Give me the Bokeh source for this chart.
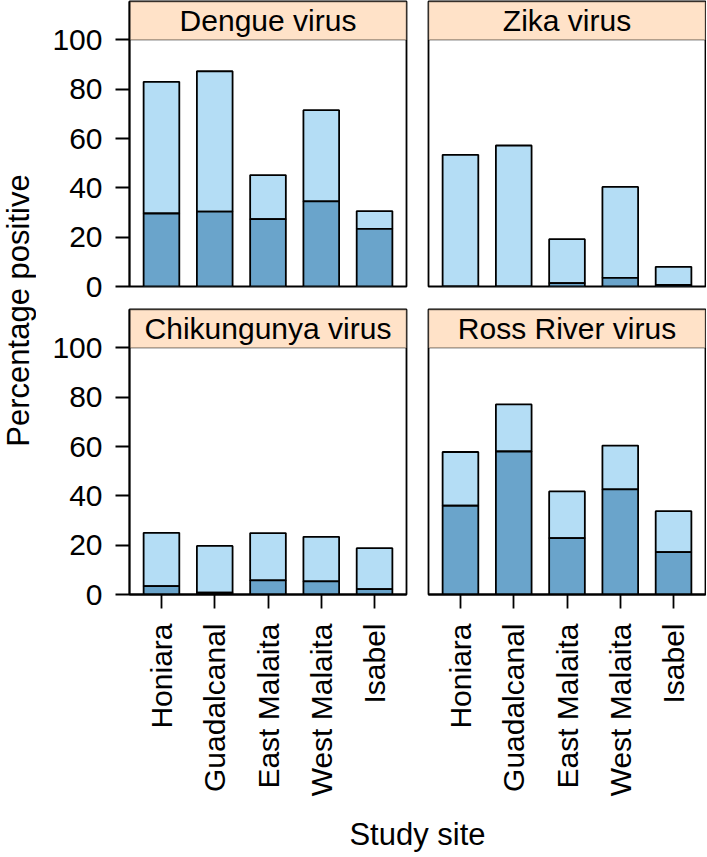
import math
from bokeh.plotting import figure
from bokeh.models import Range1d, FixedTicker, BoxAnnotation, Label
from bokeh.layouts import row, column
from bokeh.embed import file_html
from bokeh.resources import INLINE

# ---------------- data ----------------
sites = ["Honiara", "Guadalcanal", "East Malaita", "West Malaita", "Isabel"]
viruses = ["Dengue virus", "Zika virus", "Chikungunya virus", "Ross River virus"]

dengue_total = [83.0, 87.3, 45.2, 71.5, 30.6]
dengue_dark = [29.6, 30.4, 27.3, 34.5, 23.4]
zika_total = [53.4, 57.2, 19.2, 40.4, 8.0]
zika_dark = [0.0, 0.0, 1.4, 3.5, 0.6]
chik_total = [25.0, 19.7, 24.9, 23.4, 18.8]
chik_dark = [3.4, 0.8, 5.7, 5.3, 2.2]
ross_total = [57.8, 77.1, 41.8, 60.4, 33.8]
ross_dark = [36.0, 58.0, 22.9, 42.6, 17.2]

y_ticks = [0, 20, 40, 60, 80, 100]
y_label = "Percentage positive"
x_label = "Study site"

# ---------------- style ----------------
FONT = "Liberation Sans"
LIGHT = "#b4ddf5"
DARK = "#6aa4cb"
STRIP = "#ffe2c8"
LW = 1.8
FRAME_W, FRAME_H = 277, 285
Y_MAX = 115.6          # strip occupies 100..Y_MAX
YT_W = 36              # width of the y-title strip
LEFT_B = 93
GAP = 22
TOP_H = 1 + FRAME_H + 22
BOT_B = 205
BOT_H = 1 + FRAME_H + BOT_B
XT_H = 56

xpos = list(range(1, len(sites) + 1))
X_PAD = 0.6


def panel(name, total, dark, left_col, top_row):
    p = figure(
        x_range=Range1d(xpos[0] - X_PAD, xpos[-1] + X_PAD),
        y_range=Range1d(0, Y_MAX),
        frame_width=FRAME_W, frame_height=FRAME_H,
        output_backend="svg", toolbar_location=None,
        x_axis_location=None if top_row else "below",
        y_axis_location="left" if left_col else None,
        min_border_left=LEFT_B if left_col else 1,
        min_border_right=GAP - 1 if left_col else 1,
        min_border_top=1,
        min_border_bottom=22 if top_row else BOT_B,
    )
    p.xgrid.grid_line_color = None
    p.ygrid.grid_line_color = None
    p.outline_line_color = "black"
    p.outline_line_width = LW
    p.background_fill_color = "white"
    p.border_fill_color = "white"

    p.vbar(x=xpos, bottom=dark, top=total, width=0.67,
           fill_color=LIGHT, line_color="black", line_width=LW)
    p.vbar(x=xpos, bottom=0, top=dark, width=0.67,
           fill_color=DARK, line_color="black", line_width=LW)

    p.add_layout(BoxAnnotation(bottom=100, fill_color=STRIP, fill_alpha=1.0,
                               line_color="black", line_width=LW, level="underlay"))
    p.add_layout(Label(x=(xpos[0] + xpos[-1]) / 2, y=(100 + Y_MAX) / 2, text=name,
                       text_align="center", text_baseline="middle",
                       text_font=FONT, text_font_size="30px", text_color="black"))

    for ax in p.axis:
        ax.major_tick_out = 14
        ax.major_tick_in = 0
        ax.minor_tick_line_color = None
        ax.axis_line_color = "black"
        ax.axis_line_width = LW
        ax.major_tick_line_color = "black"
        ax.major_tick_line_width = LW
        ax.major_label_text_font = FONT
        ax.major_label_text_font_size = "30px"
        ax.major_label_text_color = "black"
    if left_col:
        p.yaxis.ticker = FixedTicker(ticks=y_ticks)
        p.yaxis.major_label_standoff = 13
    if not top_row:
        p.xaxis.ticker = FixedTicker(ticks=xpos)
        p.xaxis.major_label_overrides = {x: s for x, s in zip(xpos, sites)}
        p.xaxis.major_label_orientation = math.pi / 2
        p.xaxis.major_label_standoff = 15
    return p


p1 = panel(viruses[0], dengue_total, dengue_dark, True, True)
p2 = panel(viruses[1], zika_total, zika_dark, False, True)
p3 = panel(viruses[2], chik_total, chik_dark, True, False)
p4 = panel(viruses[3], ross_total, ross_dark, False, False)

# y title strip
yh = TOP_H + BOT_H
yfig = figure(width=YT_W, height=yh, x_range=Range1d(0, YT_W), y_range=Range1d(0, yh),
              min_border=0, x_axis_location=None, y_axis_location=None,
              output_backend="svg", toolbar_location=None)
yfig.outline_line_color = None
yfig.xgrid.grid_line_color = None
yfig.ygrid.grid_line_color = None
yfig.add_layout(Label(x=18, y=yh - 310, text=y_label, angle=math.pi / 2,
                      text_align="center", text_baseline="middle",
                      text_font=FONT, text_font_size="31px", text_color="black"))

# x title strip
xw = LEFT_B + FRAME_W + GAP + FRAME_W + 1
xfig = figure(width=xw, height=XT_H, x_range=Range1d(0, xw), y_range=Range1d(0, XT_H),
              min_border=0, x_axis_location=None, y_axis_location=None,
              output_backend="svg", toolbar_location=None)
xfig.outline_line_color = None
xfig.xgrid.grid_line_color = None
xfig.ygrid.grid_line_color = None
xfig.add_layout(Label(x=LEFT_B + (2 * FRAME_W + GAP) / 2, y=XT_H - 35, text=x_label,
                      text_align="center", text_baseline="middle",
                      text_font=FONT, text_font_size="31px", text_color="black"))

layout = row(yfig, column(row(p1, p2), row(p3, p4), xfig))

open("out.html", "w").write(file_html(layout, INLINE))
